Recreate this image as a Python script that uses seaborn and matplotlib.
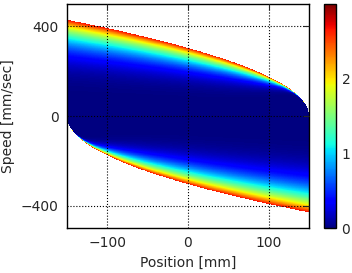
import numpy as np
import matplotlib
matplotlib.use("Agg")
import matplotlib.pyplot as plt
import seaborn as sns

# --- chart values ---
position_limit_mm = 150.0          # wall position (|x| <= 150)
speed_at_far_wall = 430.0          # boundary speed at the opposite wall
color_at_boundary = 2.7            # colour value reached on the boundary
base_exponent = 2.0                # colour rise toward boundary (far from wall)
near_wall_scale_mm = 70.0          # extra steepness close to the wall
color_range = [0, 3]
x_ticks = [-100, 0, 100]
y_ticks = [-400, 0, 400]
cbar_ticks = [0, 1, 2]
x_limits = [-150, 150]
y_limits = [-500, 500]

sns.set_style("white")
plt.rcParams["font.family"] = ["DejaVu Sans"]
plt.rcParams["font.size"] = 10

fig = plt.figure(figsize=(3.52, 2.73), dpi=100)
ax = fig.add_axes([67/352, 45/273, 242/352, 224/273])
cax = fig.add_axes([324/352, 45/273, 12/352, 224/273])

# field on a grid
xs = np.linspace(x_limits[0], x_limits[1], 481)
vs = np.linspace(y_limits[0], y_limits[1], 801)
X, V = np.meshgrid(xs, vs)
two_a = speed_at_far_wall**2 / (2 * position_limit_mm)
dist = np.where(V >= 0, position_limit_mm - X, position_limit_mm + X)
safe_dist = np.maximum(dist, 1e-6)
r = V**2 / (two_a * safe_dist)
r = np.where(dist <= 0, np.inf, r)
expo = base_exponent + (near_wall_scale_mm / safe_dist) ** 2
C = color_at_boundary * np.clip(r, 0, 1) ** expo
C = np.ma.masked_where(r > 1.0, C)

mesh = ax.pcolormesh(X, V, C, cmap="jet", vmin=color_range[0], vmax=color_range[1],
                     shading="nearest", rasterized=True)

ax.set_xlim(x_limits)
ax.set_ylim(y_limits)
ax.set_xticks(x_ticks)
ax.set_yticks(y_ticks)
ax.grid(True, color="black", linestyle=":", linewidth=0.8)
ax.set_axisbelow(False)
ax.tick_params(direction="in", top=True, right=True, length=4, width=0.8,
               labelsize=10, pad=6)
for s in ax.spines.values():
    s.set_color("black")
    s.set_linewidth(1.0)
ax.set_xlabel("Position [mm]", fontsize=10)
ax.set_ylabel("Speed [mm/sec]", fontsize=10)

cb = fig.colorbar(mesh, cax=cax, ticks=cbar_ticks)
cb.outline.set_edgecolor("black")
cb.outline.set_linewidth(1.0)
cax.tick_params(direction="in", length=4, width=0.8, labelsize=10, pad=4)

fig.savefig("out.png", dpi=100)
